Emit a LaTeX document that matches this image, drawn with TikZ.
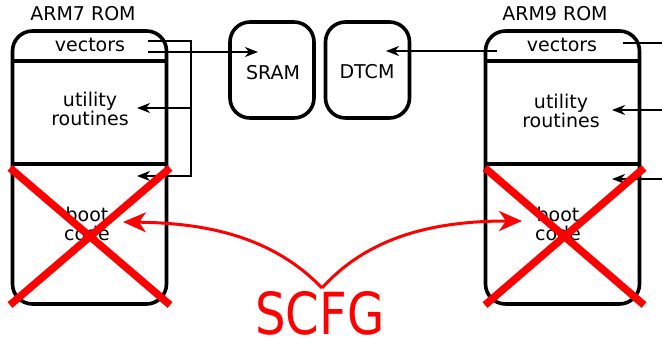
\documentclass[tikz,border=0pt]{standalone}
\usepackage{fontspec}
\setmainfont{DejaVu Sans}
\usetikzlibrary{arrows.meta}
\begin{document}
\begin{tikzpicture}[x=1pt,y=-1pt,
  rom/.style={draw,line width=3.6pt,rounded corners=20pt,inner sep=0pt,minimum width=154pt,minimum height=273pt},
  mem/.style={draw,line width=3.6pt,rounded corners=20pt,inner sep=0pt,minimum width=84pt,minimum height=96pt},
  lbl/.style={font=\fontsize{19}{19}\selectfont,align=center,inner sep=0pt},
  divider/.style={line width=3.6pt},
  conn/.style={line width=2pt},
  arr/.style={conn,-{Stealth[length=13pt,width=10pt,inset=4pt]}},
  cross/.style={red,line width=7.5pt},
  redarr/.style={red,line width=3pt,-{Stealth[length=23pt,width=20pt,inset=7pt]}}]
\useasboundingbox (0,0) rectangle (662,339);
% boxes
\node[rom] (rom7) at (89.5,167.5) {};
\node[rom] (rom9) at (562.5,167.5) {};
\node[mem] (sram) at (272,70) {};
\node[mem] (dtcm) at (367.5,70) {};
% dividers
\coordinate (d1) at (0,61);
\coordinate (d2) at (0,164);
\draw[divider] (rom7.west|-d1) -- (rom7.east|-d1);
\draw[divider] (rom7.west|-d2) -- (rom7.east|-d2);
\draw[divider] (rom9.west|-d1) -- (rom9.east|-d1);
\draw[divider] (rom9.west|-d2) -- (rom9.east|-d2);
% labels
\node[lbl] (t7) at (83,14) {ARM7 ROM};
\node[lbl] (t9) at (555,14) {ARM9 ROM};
\node[lbl] (v7) at (90,45) {vectors};
\node[lbl] (v9) at (562,45) {vectors};
\node[lbl] (u7) at (90,109) {utility\\routines};
\node[lbl] (u9) at (561,111) {utility\\routines};
\node[lbl] (b7) at (87,224) {boot\\code};
\node[lbl] (b9) at (558,224) {boot\\code};
\node[lbl] (ts) at (273,73) {SRAM};
\node[lbl] (td) at (367,72) {DTCM};
% connector coordinates
\coordinate (v7a) at (148,41);
\coordinate (v7b) at (148,52);
\coordinate (bus7) at (191,176);
\coordinate (bus7u) at (191,108);
\coordinate (u7in) at (137,108);
\coordinate (b7in) at (137,176);
\coordinate (sramin) at (258,52);
\coordinate (v9a) at (497,51);
\coordinate (dtcmin) at (386,51);
\coordinate (v9b) at (623,43);
\coordinate (e9v) at (662,43);
\coordinate (e9u) at (662,110);
\coordinate (e9b) at (662,179);
\coordinate (u9in) at (612,110);
\coordinate (b9in) at (612,179);
% connectors
\draw[arr] (v7a) -| (bus7) -- (b7in);
\draw[arr] (bus7u) -- (u7in);
\draw[arr] (v7b) -- (sramin);
\draw[arr] (v9a) -- (dtcmin);
\draw[conn] (v9b) -- (e9v);
\draw[arr] (e9u) -- (u9in);
\draw[arr] (e9b) -- (b9in);
% red crosses
\draw[cross] (10,168) -- (170,305);
\draw[cross] (170,168) -- (10,305);
\draw[cross] (485,168) -- (644,305);
\draw[cross] (644,168) -- (485,305);
% SCFG
\node[red,inner sep=0pt,xscale=0.83,font=\fontsize{58}{58}\selectfont] (scfg) at (320,313.5) {SCFG};
\coordinate (src) at (322,288);
\coordinate (b7t) at (123,222);
\coordinate (b9t) at (522,221);
\draw[redarr] (src) .. controls (272,236) and (205,223) .. (b7t);
\draw[redarr] (src) .. controls (369,236) and (435,221) .. (b9t);
\end{tikzpicture}
\end{document}
